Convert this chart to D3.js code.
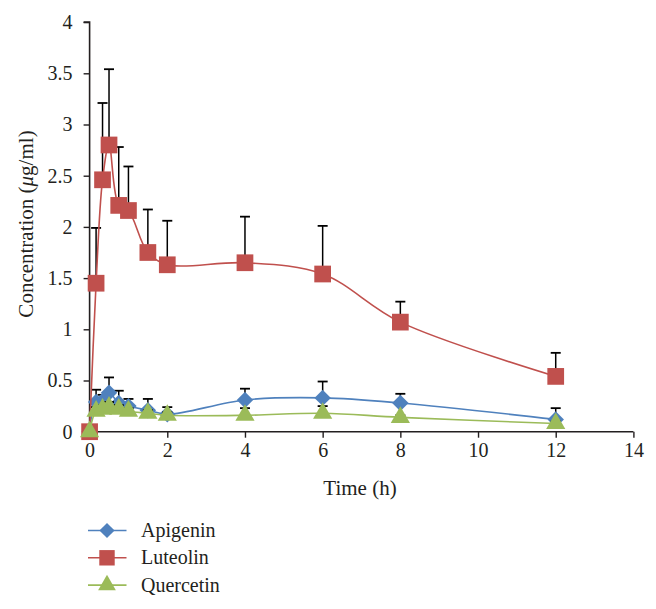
<!DOCTYPE html>
<html><head><meta charset="utf-8">
<script src="https://cdn.jsdelivr.net/npm/d3@7"></script>
<style>body{margin:0;background:#fff}svg{display:block}text{font-family:"Liberation Serif","Times New Roman",serif;fill:#231f20}</style>
</head><body><svg id="c" width="656" height="609"></svg>
<script>
const times = [0, 0.167, 0.333, 0.5, 0.75, 1, 1.5, 2, 4, 6, 8, 12];
const apigenin = [0, 0.29, 0.30, 0.38, 0.28, 0.25, 0.21, 0.17, 0.31, 0.33, 0.28, 0.12];
const apigeninSD = [0, 0.12, 0.06, 0.15, 0.12, 0.07, 0.11, 0.07, 0.11, 0.16, 0.09, 0.11];
const luteolin = [0, 1.45, 2.46, 2.80, 2.21, 2.16, 1.75, 1.63, 1.65, 1.54, 1.07, 0.54];
const luteolinSD = [0, 0.54, 0.75, 0.74, 0.57, 0.43, 0.42, 0.43, 0.45, 0.47, 0.20, 0.23];
const quercetin = [0, 0.20, 0.22, 0.24, 0.22, 0.20, 0.18, 0.16, 0.16, 0.18, 0.14, 0.08];
const quercetinSD = [0, 0.04, 0.04, 0.05, 0.04, 0.03, 0.03, 0.03, 0.07, 0.07, 0.02, 0.02];
const xTicks = [0, 2, 4, 6, 8, 10, 12, 14];
const yTicks = [0, 0.5, 1, 1.5, 2, 2.5, 3, 3.5, 4];
const seriesNames = ["Apigenin", "Luteolin", "Quercetin"];
const seriesColors = ["#4F81BD", "#C0504D", "#9BBB59"];

const series = [
  {name: seriesNames[0], vals: apigenin, sd: apigeninSD, color: seriesColors[0], shape: d3.symbolSquare, size: 135, rot: 45},
  {name: seriesNames[1], vals: luteolin, sd: luteolinSD, color: seriesColors[1], shape: d3.symbolSquare, size: 280, rot: 0},
  {name: seriesNames[2], vals: quercetin, sd: quercetinSD, color: seriesColors[2], shape: d3.symbolTriangle, size: 160, rot: 0}
];

const svg = d3.select("#c");
const x = d3.scaleLinear().domain([0, 14]).range([89.6, 633.4]);
const y = d3.scaleLinear().domain([0, 4]).range([431.7, 22.1]);
const FONT = '"Liberation Serif","Times New Roman",serif';

const gx = svg.append("g").attr("transform", `translate(0,${y(0)})`)
  .call(d3.axisBottom(x).tickValues(xTicks).tickSize(6).tickPadding(5).tickFormat(d3.format("d")));
const gy = svg.append("g").attr("transform", `translate(${x(0)},0)`)
  .call(d3.axisLeft(y).tickValues(yTicks).tickSize(6).tickPadding(11).tickFormat(d => String(d)));
[gx, gy].forEach(g => {
  g.attr("font-family", FONT).attr("font-size", 20);
  g.select(".domain").attr("stroke", "#231f20").attr("stroke-width", 1.6);
  g.selectAll(".tick line").attr("stroke", "#231f20").attr("stroke-width", 1.4);
  g.selectAll(".tick text").style("font-size", "20px").style("font-family", FONT).attr("fill", "#231f20");
});
gy.select(".domain").attr("d", `M-6,${y(4)}H0V${y(0)}`);
gx.select(".domain").attr("d", `M${x(0)},0H${x(14)}`);

svg.append("text").attr("x", 360).attr("y", 495).attr("text-anchor", "middle").style("font-size", "21px").text("Time (h)");
const yl = svg.append("text").attr("transform", `translate(33,224) rotate(-90)`)
  .attr("text-anchor", "middle").style("font-size", "21px");
yl.append("tspan").text("Concentration (");
yl.append("tspan").attr("font-style", "italic").text("\u03bc");
yl.append("tspan").text("g/ml)");

const line = d3.line().x(d => x(d[0])).y(d => y(d[1])).curve(d3.curveCatmullRom.alpha(0.5));

series.forEach(s => {
  const pts = times.map((t, i) => [t, s.vals[i], s.sd[i]]);
  const g = svg.append("g");
  pts.filter(p => p[2] > 0).forEach(p => {
    g.append("line").attr("x1", x(p[0])).attr("x2", x(p[0])).attr("y1", y(p[1])).attr("y2", y(p[1] + p[2]))
      .attr("stroke", "#000").attr("stroke-width", 1.5);
    g.append("line").attr("x1", x(p[0]) - 5).attr("x2", x(p[0]) + 5).attr("y1", y(p[1] + p[2])).attr("y2", y(p[1] + p[2]))
      .attr("stroke", "#000").attr("stroke-width", 1.8);
  });
  g.append("path").datum(pts).attr("d", line).attr("fill", "none").attr("stroke", s.color).attr("stroke-width", 1.6);
  g.selectAll("path.m").data(pts).join("path").attr("class", "m")
    .attr("transform", d => `translate(${x(d[0])},${y(d[1])}) rotate(${s.rot})`)
    .attr("d", d3.symbol(s.shape, s.size)).attr("fill", s.color);
});

const leg = svg.append("g");
series.forEach((s, i) => {
  const cy = 530.5 + i * 27.3;
  leg.append("line").attr("x1", 88).attr("x2", 126.5).attr("y1", cy).attr("y2", cy).attr("stroke", s.color).attr("stroke-width", 1.6);
  leg.append("path").attr("transform", `translate(107,${cy}) rotate(${s.rot})`).attr("d", d3.symbol(s.shape, s.size * 0.85)).attr("fill", s.color);
  leg.append("text").attr("x", 141).attr("y", cy + 6.5).style("font-size", "20px").text(s.name);
});
</script></body></html>
